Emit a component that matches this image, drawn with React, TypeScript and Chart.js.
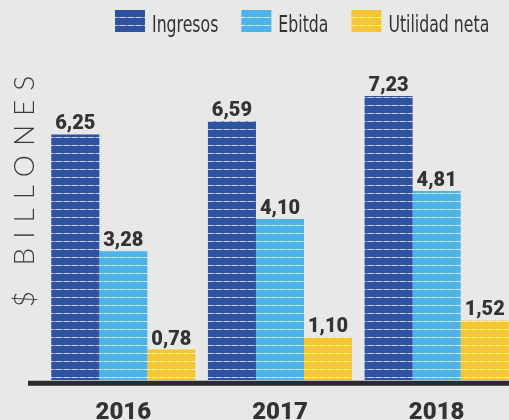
import React, { useEffect, useRef } from "react";
import { Chart, registerables } from "chart.js";

Chart.register(...registerables);

const categories = ["2016", "2017", "2018"];
const seriesLabels = ["Ingresos", "Ebitda", "Utilidad neta"];
const ingresos = [6.25, 6.59, 7.23];
const ebitda = [3.28, 4.1, 4.81];
const utilidadNeta = [0.78, 1.1, 1.52];
const yAxisTitle = "$ BILLONES";
const yMax = 8.6;

const seriesColors = ["#2e52a2", "#4db3ea", "#f6c52f"];
const paper = "#e8e8e6";
const ink = "#333333";
const NARROW = '"DejaVu Sans Condensed", "DejaVu Sans", sans-serif';
const HEAVY = 'Roboto, "Liberation Sans", sans-serif';

function stripePattern(color: string): CanvasPattern | string {
  const c = document.createElement("canvas");
  c.width = 8;
  c.height = 8;
  const g = c.getContext("2d");
  if (!g) return color;
  g.fillStyle = color;
  g.fillRect(0, 0, 8, 8);
  g.fillStyle = "rgba(255,255,255,0.72)";
  g.fillRect(0, 1, 5, 1);
  g.fillStyle = "rgba(255,255,255,0.45)";
  g.fillRect(5, 1, 3, 1);
  return g.createPattern(c, "repeat") || color;
}

const paperPlugin = {
  id: "paper",
  beforeDraw(chart: any) {
    const { ctx, width, height } = chart;
    ctx.save();
    ctx.fillStyle = paper;
    ctx.fillRect(0, 0, width, height);
    ctx.restore();
  },
};

const baselinePlugin = {
  id: "baseline",
  afterDatasetsDraw(chart: any) {
    const { ctx } = chart;
    const y = chart.scales.y.getPixelForValue(0) + 3;
    ctx.save();
    ctx.strokeStyle = "#2b2b2b";
    ctx.lineWidth = 5;
    ctx.beginPath();
    ctx.moveTo(28, y);
    ctx.lineTo(chart.width, y);
    ctx.stroke();
    ctx.restore();
  },
};

const valueLabelPlugin = {
  id: "valueLabels",
  afterDatasetsDraw(chart: any) {
    const { ctx } = chart;
    ctx.save();
    ctx.fillStyle = ink;
    ctx.font = `900 20px ${HEAVY}`;
    ctx.textAlign = "center";
    ctx.textBaseline = "alphabetic";
    chart.data.datasets.forEach((ds: any, i: number) => {
      const meta = chart.getDatasetMeta(i);
      meta.data.forEach((bar: any, j: number) => {
        const v = ds.data[j] as number;
        ctx.fillText(v.toFixed(2).replace(".", ","), bar.x, bar.y - 5);
      });
    });
    ctx.restore();
  },
};

const legendPlugin = {
  id: "stripedLegend",
  afterDraw(chart: any) {
    const { ctx } = chart;
    const sx = 0.76;
    let x = 115;
    ctx.save();
    ctx.font = `23px ${NARROW}`;
    chart.data.datasets.forEach((ds: any) => {
      ctx.fillStyle = ds.backgroundColor;
      ctx.fillRect(x, 10, 30, 22);
      x += 37;
      const w = ctx.measureText(ds.label).width * sx;
      ctx.save();
      ctx.translate(x, 32);
      ctx.scale(sx, 1);
      ctx.fillStyle = ink;
      ctx.textAlign = "left";
      ctx.textBaseline = "alphabetic";
      ctx.fillText(ds.label, 0, 0);
      ctx.restore();
      x += w + 23;
    });
    ctx.restore();
  },
};

const yTitlePlugin = {
  id: "yTitle",
  afterDraw(chart: any) {
    const { ctx } = chart;
    ctx.save();
    ctx.translate(25, 191.5);
    ctx.rotate(-Math.PI / 2);
    ctx.fillStyle = "#3a3a3a";
    ctx.font = '300 28px Lato, "Open Sans", sans-serif';
    (ctx as any).letterSpacing = "9px";
    ctx.textAlign = "center";
    ctx.textBaseline = "middle";
    ctx.fillText(yAxisTitle, 4.5, 0);
    ctx.restore();
  },
};

export default function App() {
  const ref = useRef<HTMLCanvasElement>(null);
  useEffect(() => {
    document.body.style.margin = "0";
    const canvas = ref.current;
    if (!canvas) return;
    const chart = new Chart(canvas, {
      type: "bar",
      data: {
        labels: categories,
        datasets: [
          { label: seriesLabels[0], data: ingresos, backgroundColor: stripePattern(seriesColors[0]) as any, borderWidth: 0 },
          { label: seriesLabels[1], data: ebitda, backgroundColor: stripePattern(seriesColors[1]) as any, borderWidth: 0 },
          { label: seriesLabels[2], data: utilidadNeta, backgroundColor: stripePattern(seriesColors[2]) as any, borderWidth: 0 },
        ],
      },
      options: {
        responsive: false,
        animation: false,
        devicePixelRatio: 1,
        layout: { padding: { left: 45, right: 5, top: 42, bottom: 5 } },
        datasets: { bar: { categoryPercentage: 0.92, barPercentage: 1 } },
        plugins: {
          legend: { display: false },
          tooltip: { enabled: false },
          title: { display: false },
        },
        scales: {
          x: {
            grid: { display: false, drawTicks: false },
            border: { display: false },
            ticks: { color: ink, padding: 18, font: { family: HEAVY, size: 24, weight: "900" } },
          },
          y: { display: false, min: 0, max: yMax },
        },
      },
      plugins: [paperPlugin, baselinePlugin, valueLabelPlugin, legendPlugin, yTitlePlugin],
    } as any);
    return () => chart.destroy();
  }, []);
  return (
    <div style={{ width: 509, height: 420, overflow: "hidden", position: "relative", background: paper }}>
      <canvas
        ref={ref}
        width={520}
        height={450}
        style={{ position: "absolute", left: 0, top: 0, width: 520, height: 450 }}
      />
    </div>
  );
}
